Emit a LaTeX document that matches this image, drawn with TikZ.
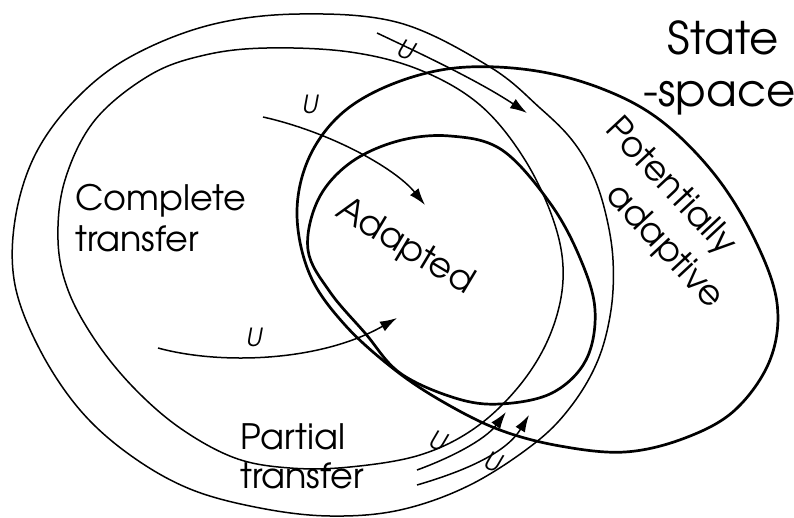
\documentclass[tikz,border=0pt]{standalone}
\usepackage{fontspec}
\setmainfont{TeX Gyre Adventor}
\usetikzlibrary{arrows.meta}
\begin{document}
\begin{tikzpicture}[x=1pt,y=-1pt,
  thinline/.style={line width=1.5pt,line join=round},
  thickline/.style={line width=2.7pt,line join=round},
  arr/.style={line width=1.5pt,-{Latex[length=17pt,width=11pt]}},
  lbl/.style={font=\fontsize{35}{40}\selectfont,inner sep=0pt},
  ulbl/.style={font=\fontsize{25}{28}\selectfont\itshape,inner sep=0pt}]
\useasboundingbox (0,0) rectangle (794,518);
% outer thin region
\draw[thinline] plot[smooth cycle,tension=0.6] coordinates {
 (300,14) (400,23) (490,67) (540,108) (572,140) (593,175) (606,215) (613,260)
 (611,310) (598,360) (572,405) (535,443) (470,485) (400,510) (330,516) (260,508)
 (190,489) (130,455) (80,410) (40,350) (15,285) (15,220) (35,155) (75,100)
 (130,57) (210,25)};
% inner thin region
\draw[thinline] plot[smooth cycle,tension=0.6] coordinates {
 (267,48) (350,52) (420,70) (480,105) (525,160) (555,225) (563,280) (550,335)
 (520,385) (475,428) (420,455) (350,467) (290,468) (235,458) (180,428) (133,387)
 (95,340) (68,290) (58,240) (65,180) (95,120) (150,75) (205,55)};
% potentially adaptive
\draw[thickline] plot[smooth cycle,tension=0.6] coordinates {
 (297,215) (308,160) (340,115) (390,85) (455,68) (530,70) (600,88) (660,120)
 (715,175) (755,240) (777,303) (770,360) (735,410) (685,438) (625,452) (560,446)
 (500,430) (445,403) (395,370) (345,325) (310,275)};
% adapted
\draw[thickline] plot[smooth cycle,tension=0.6] coordinates {
 (308,250) (318,200) (350,163) (398,141) (450,136) (502,150) (550,203) (580,258)
 (595,310) (586,360) (552,393) (500,404) (455,398) (400,373) (365,333) (330,292)};
% arrows
\coordinate (a1s) at (377,33); \coordinate (a1e) at (527,113);
\coordinate (a2s) at (263,117); \coordinate (a2e) at (425,205);
\coordinate (a3s) at (158,348); \coordinate (a3e) at (397,318);
\coordinate (b1s) at (417,470); \coordinate (b1e) at (506,412);
\coordinate (b2s) at (417,485); \coordinate (b2e) at (529,415);
\draw[arr] (a1s) .. controls (430,58) and (480,82) .. (a1e);
\draw[arr] (a2s) .. controls (330,132) and (395,168) .. (a2e);
\draw[arr] (a3s) .. controls (220,365) and (320,362) .. (a3e);
\draw[arr] (b1s) .. controls (450,458) and (485,440) .. (b1e);
\draw[arr] (b2s) .. controls (458,473) and (505,455) .. (b2e);
% U labels
\node[ulbl,rotate=-20] (u1) at (406,50) {U};
\node[ulbl] (u2) at (310,104) {U};
\node[ulbl] (u3) at (254,337) {U};
\node[ulbl,rotate=-20] (u4) at (438,441) {U};
\node[ulbl,rotate=-20] (u5) at (493,462) {U};
% texts
\node[font=\fontsize{45}{50}\selectfont,inner sep=0pt,anchor=base west] (st) at (667,55) {State};
\node[font=\fontsize{45}{50}\selectfont,inner sep=0pt,anchor=base west] (sp) at (643,107) {-space};
\node[lbl,anchor=base west] (c1) at (75,211) {Complete};
\node[lbl,anchor=base west] (c2) at (75,252) {transfer};
\node[lbl,anchor=base west] (p1) at (240,449) {Partial};
\node[lbl,anchor=base west] (p2) at (240,488) {transfer};
\node[lbl,rotate=-31] (ad) at (405,247) {Adapted};
\node[lbl,rotate=-47] (pa1) at (670,187) {Potentially};
\node[lbl,rotate=-47] (pa2) at (664,247) {adaptive};
\end{tikzpicture}
\end{document}
